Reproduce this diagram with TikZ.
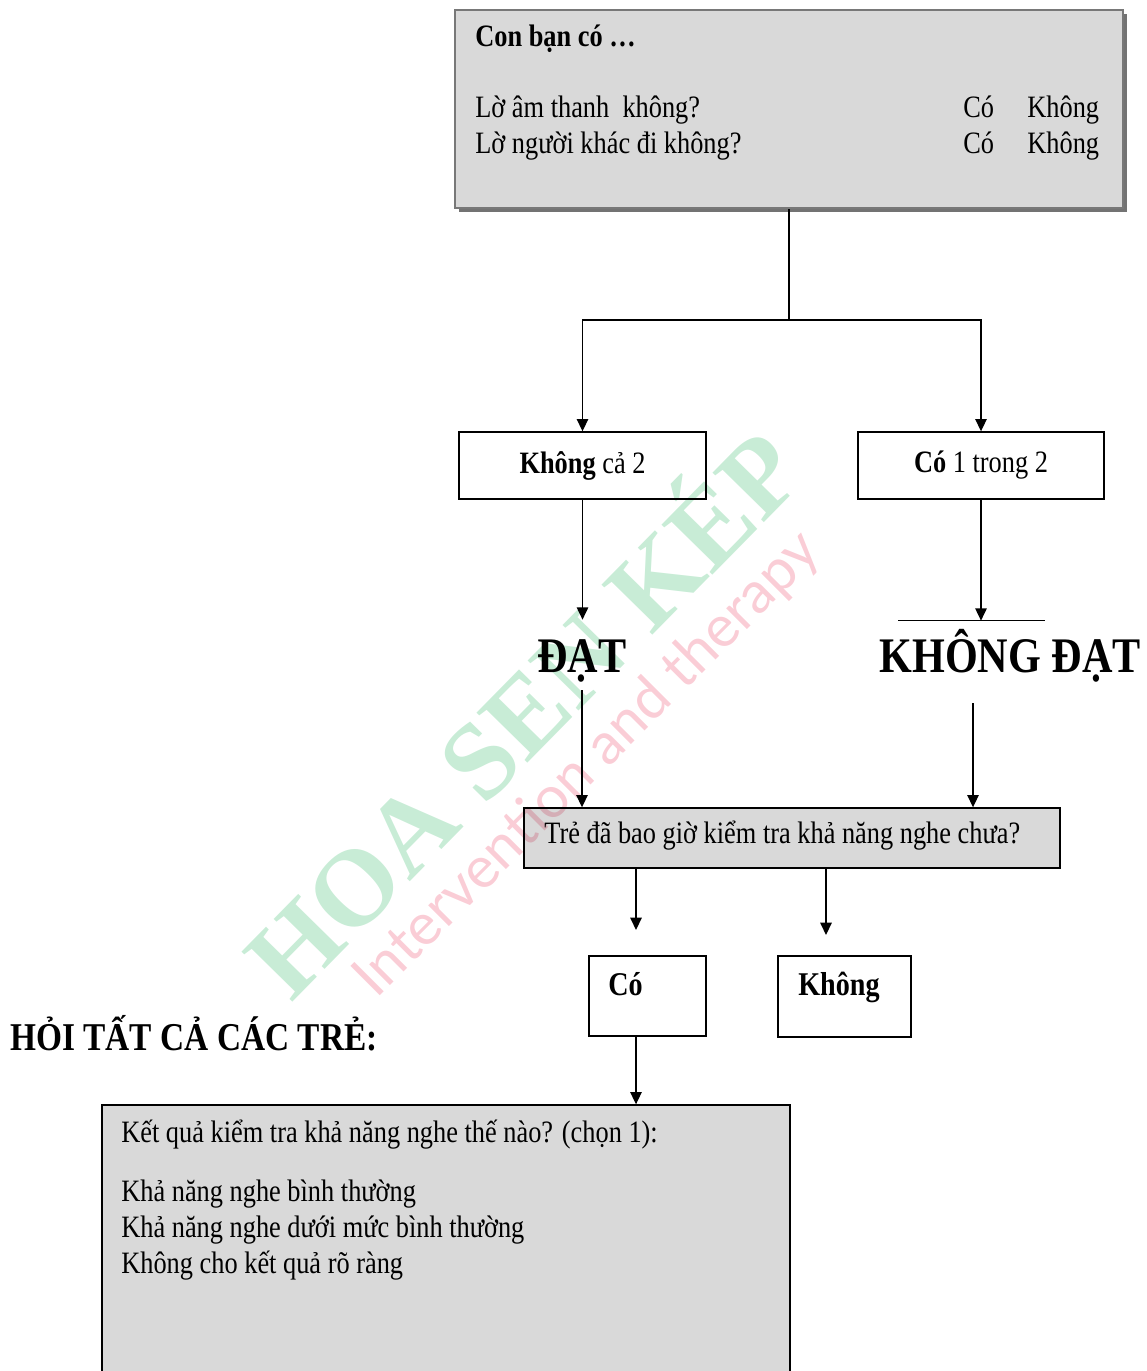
\documentclass[tikz,border=0pt]{standalone}
\usepackage{graphicx}
\usepackage{fontspec}
\setmainfont{Liberation Serif}
\newfontfamily\wmsans{Lato}
\usetikzlibrary{arrows.meta}
\usetikzlibrary{calc}
\usetikzlibrary{positioning}
\usetikzlibrary{shadows}
\definecolor{boxgrey}{RGB}{217,217,217}
\definecolor{framegrey}{RGB}{120,120,120}
\definecolor{wmgreen}{RGB}{200,236,214}
\definecolor{wmpink}{RGB}{250,205,214}
\newcommand\tall[1]{\scalebox{1}[1.18]{#1}}

\begin{document}
\begin{tikzpicture}[x=0.02cm,y=-0.02cm,>={Triangle[length=7pt,width=6.5pt]},
  link/.style={line width=0.8pt},
  greybox/.style={draw=black,fill=boxgrey,line width=0.8pt,inner sep=0pt},
  whitebox/.style={draw=black,fill=white,line width=0.8pt,inner sep=0pt},
  txt/.style={anchor=base west,inner sep=0pt,font=\fontsize{15}{18}\selectfont},
  btxt/.style={anchor=base west,inner sep=0pt,font=\fontsize{16}{19}\selectfont\bfseries},
  big/.style={anchor=base,inner sep=0pt,font=\fontsize{24}{28}\selectfont\bfseries}]
\useasboundingbox (0,0) rectangle (1146,1371);
% question box
\node[greybox,draw=framegrey,line width=1.2pt,
  general shadow={fill=black!55,shadow xshift=2.2pt,shadow yshift=-2.2pt},
  minimum width=13.36cm,minimum height=3.96cm] (ask) at (789,109) {};
\node[txt,font=\fontsize{15}{18}\selectfont\bfseries] (askhead) at (475,47) {\tall{Con bạn có …}};
\node[txt] (q1) at (475,118) {\tall{Lờ âm thanh\ \ không?}};
\node[txt] (q2) at (475,154) {\tall{Lờ người khác đi không?}};
\node[txt] (y1) at (963,118) {\tall{Có}};
\node[txt] (n1) at (1027,118) {\tall{Không}};
\node[txt] (y2) at (963,154) {\tall{Có}};
\node[txt] (n2) at (1027,154) {\tall{Không}};
% answers
\coordinate (split) at (789,320);
\node[whitebox,minimum width=4.94cm,minimum height=1.34cm,font=\fontsize{15}{18}\selectfont] (none) at (582.5,465.5) {\tall{\textbf{Không} cả 2}};
\node[whitebox,minimum width=4.92cm,minimum height=1.34cm,font=\fontsize{15}{18}\selectfont] (one) at (981,465.5) {\tall{\textbf{Có} 1 trong 2}};
\draw[link] (ask.south) -- (split);
\draw[->,link] (split) -| (none.north);
\draw[->,link] (split) -| (one.north);
\node[big,text height=1.04cm,text depth=0.36cm] (pass) at (582,672) {\tall{ĐẠT}};
\node[big,text height=1.02cm,text depth=0.62cm] (fail) at (1010,672) {\tall{KHÔNG ĐẠT}};
\draw[->,link] (none) -- (none |- pass.north);
\draw[->,link] (one) -- (one |- fail.north);
\draw[line width=0.6pt] ($(fail.north)+(-112,0)$) -- ($(fail.north)+(35,0)$);
% tested before?
\node[greybox,minimum width=10.72cm,minimum height=1.2cm] (tested) at (792,838) {};
\node[txt] (testedtxt) at (544,843) {\tall{Trẻ đã bao giờ kiểm tra khả năng nghe chưa?}};
\draw[->,link] (pass) -- (pass |- tested.north);
\draw[->,link] ($(fail.south)+(-37,0)$) coordinate (failout) -- (failout |- tested.north);
\coordinate (toyes) at (636,930);
\coordinate (tono) at (826,935);
\draw[->,link] (tested.south -| toyes) -- (toyes);
\draw[->,link] (tested.south -| tono) -- (tono);
\node[whitebox,minimum width=2.34cm,minimum height=1.6cm] (yes) at (647.5,996) {};
\node[btxt] (yestxt) at (608,995) {\tall{Có}};
\node[whitebox,minimum width=2.66cm,minimum height=1.62cm] (no) at (844.5,996.5) {};
\node[btxt] (notxt) at (798,995) {\tall{Không}};
\node[anchor=base west,inner sep=0pt,font=\fontsize{19}{22}\selectfont\bfseries] (all) at (10,1050) {\tall{HỎI TẤT CẢ CÁC TRẺ:}};
% result box
\node[greybox,minimum width=13.76cm,minimum height=5.9cm] (result) at (446,1252.5) {};
\draw[->,link] (yes.south -| toyes) -- (toyes |- result.north);
\node[txt] (rq) at (121,1142) {\tall{Kết quả kiểm tra khả năng nghe thế nào? (chọn 1):}};
\node[txt] (r1) at (121,1201) {\tall{Khả năng nghe bình thường}};
\node[txt] (r2) at (121,1237) {\tall{Khả năng nghe dưới mức bình thường}};
\node[txt] (r3) at (121,1273) {\tall{Không cho kết quả rõ ràng}};
% watermark
\begin{scope}[blend mode=multiply]
\node[rotate=45.5,text=wmgreen,font=\fontsize{62}{62}\selectfont\bfseries] (wmname) at (517,708) {HOA SEN KÉP};
\node[rotate=45,text=wmpink,font=\wmsans\fontsize{33}{33}\selectfont] (wmtag) at (588,765) {Intervention and therapy};
\end{scope}
\end{tikzpicture}
\end{document}
